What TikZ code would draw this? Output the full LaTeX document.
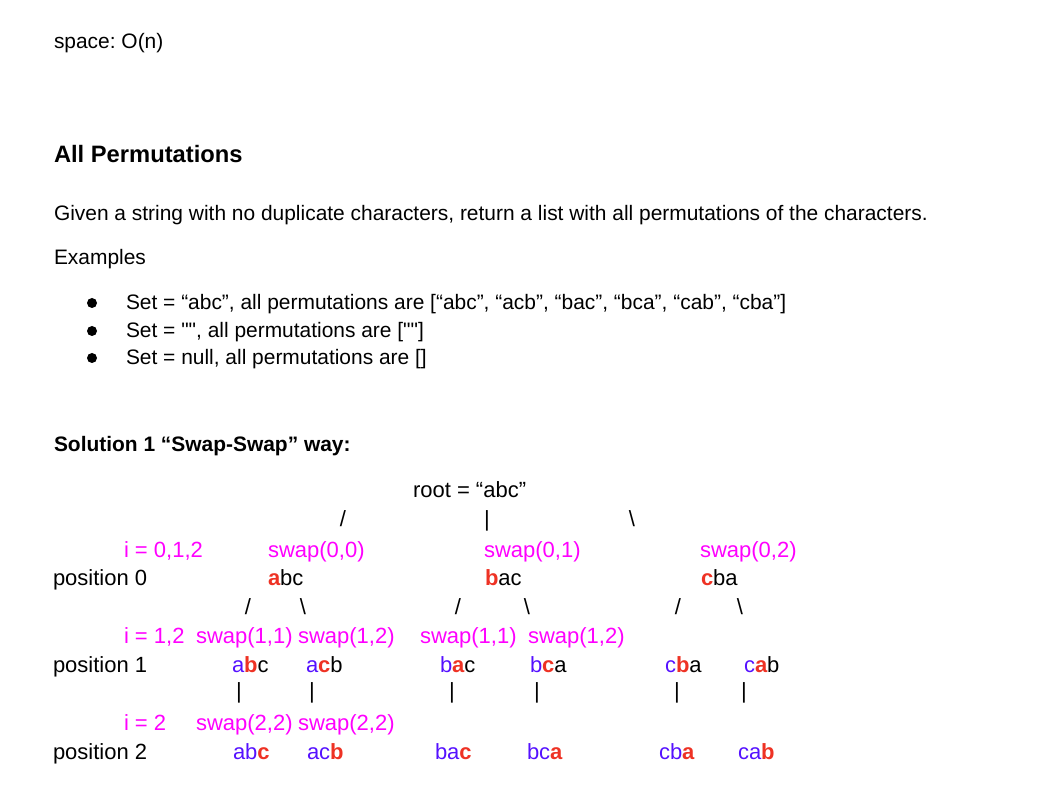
\documentclass[tikz,border=0pt]{standalone}
\usepackage{fontspec}
\setmainfont{Liberation Sans}[Ligatures=TeXOff]
\definecolor{mag}{RGB}{255,0,255}
\definecolor{hlred}{RGB}{238,50,36}
\definecolor{hlpur}{RGB}{85,17,255}
\newcommand\hlr[1]{\textcolor{hlred}{\bfseries #1}}
\newcommand\hlp[1]{\textcolor{hlpur}{#1}}
\frenchspacing
\tikzset{
  txt/.style={anchor=base west, inner sep=0pt, outer sep=0pt, font=\fontsize{15.7}{19}\selectfont},
  head/.style={txt, font=\fontsize{17.8}{21}\selectfont\bfseries},
  sub/.style={txt, font=\fontsize{15.7}{19}\selectfont\bfseries},
  tr/.style={txt, font=\fontsize{16.5}{19}\selectfont},
  sw/.style={tr, text=mag},
  ln/.style={anchor=base, inner sep=0pt, outer sep=0pt, font=\fontsize{16.5}{19}\selectfont},
  bul/.style={fill=black, circle, inner sep=0pt, minimum size=7.5pt}
}
\begin{document}
\begin{tikzpicture}[x=0.75pt, y=-0.75pt]
\useasboundingbox (0,0) rectangle (1060,798);
% header text
\node[txt] (sp) at (54,49) {space: O(n)};
\node[head] (title) at (54,163) {All Permutations};
\node[txt] (given) at (54,221) {Given a string with no duplicate characters, return a list with all permutations of the characters.};
\node[txt] (ex) at (54,265) {Examples};
\node[bul] (b1) at (92,303) {};
\node[bul] (b2) at (92,331) {};
\node[bul] (b3) at (92,358) {};
\node[txt] (e1) at (126,310) {Set = “abc”, all permutations are [“abc”, “acb”, “bac”, “bca”, “cab”, “cba”]};
\node[txt] (e2) at (126,338) {Set = "", all permutations are [""]};
\node[txt] (e3) at (126,365) {Set = null, all permutations are []};
\node[sub] (sol) at (54,451) {Solution 1 “Swap-Swap” way:};
% tree
\node[tr] (root) at (413,497) {root = “abc”};
\node[ln] (l1a) at (343,526) {/};
\node[ln] (l1b) at (487,526) {|};
\node[ln] (l1c) at (632,526) {\textbackslash};
\node[sw] (i0) at (124,557) {i = 0,1,2};
\node[sw] (s00) at (268,557) {swap(0,0)};
\node[sw] (s01) at (484,557) {swap(0,1)};
\node[sw] (s02) at (700,557) {swap(0,2)};
\node[tr] (p0) at (53,585) {position 0};
\node[tr] (n0a) at (268,585) {\hlr{a}bc};
\node[tr] (n0b) at (485,585) {\hlr{b}ac};
\node[tr] (n0c) at (701,585) {\hlr{c}ba};
\node[ln] (l2a) at (248,614) {/};
\node[ln] (l2b) at (303,614) {\textbackslash};
\node[ln] (l2c) at (458,614) {/};
\node[ln] (l2d) at (527,614) {\textbackslash};
\node[ln] (l2e) at (678,614) {/};
\node[ln] (l2f) at (740,614) {\textbackslash};
\node[sw] (i1) at (124,643) {i = 1,2};
\node[sw] (s11a) at (196,643) {swap(1,1)};
\node[sw] (s12a) at (298,643) {swap(1,2)};
\node[sw] (s11b) at (420,643) {swap(1,1)};
\node[sw] (s12b) at (528,643) {swap(1,2)};
\node[tr] (p1) at (53,672) {position 1};
\node[tr] (n1a) at (232,672) {\hlp{a}\hlr{b}c};
\node[tr] (n1b) at (306,672) {\hlp{a}\hlr{c}b};
\node[tr] (n1c) at (440,672) {\hlp{b}\hlr{a}c};
\node[tr] (n1d) at (530,672) {\hlp{b}\hlr{c}a};
\node[tr] (n1e) at (665,672) {\hlp{c}\hlr{b}a};
\node[tr] (n1f) at (744,672) {\hlp{c}\hlr{a}b};
\node[ln] (l3a) at (239,698) {|};
\node[ln] (l3b) at (312,698) {|};
\node[ln] (l3c) at (452,698) {|};
\node[ln] (l3d) at (537,698) {|};
\node[ln] (l3e) at (677,698) {|};
\node[ln] (l3f) at (744,698) {|};
\node[sw] (i2) at (124,730) {i = 2};
\node[sw] (s22a) at (196,730) {swap(2,2)};
\node[sw] (s22b) at (298,730) {swap(2,2)};
\node[tr] (p2) at (53,759) {position 2};
\node[tr] (n2a) at (233,759) {\hlp{ab}\hlr{c}};
\node[tr] (n2b) at (307,759) {\hlp{ac}\hlr{b}};
\node[tr] (n2c) at (435,759) {\hlp{ba}\hlr{c}};
\node[tr] (n2d) at (527,759) {\hlp{bc}\hlr{a}};
\node[tr] (n2e) at (659,759) {\hlp{cb}\hlr{a}};
\node[tr] (n2f) at (738,759) {\hlp{ca}\hlr{b}};
\end{tikzpicture}
\end{document}
